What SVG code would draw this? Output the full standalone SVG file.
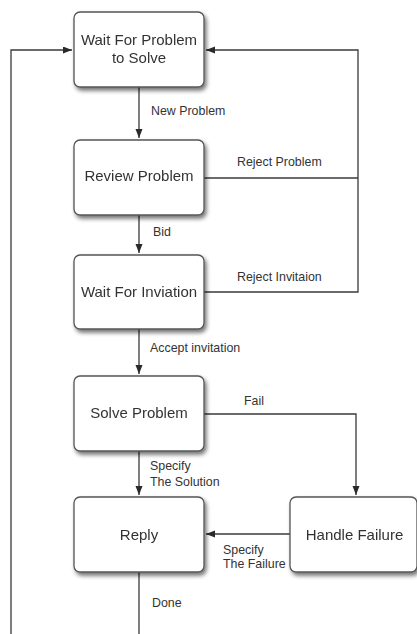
<svg xmlns="http://www.w3.org/2000/svg" width="417" height="634" viewBox="0 0 417 634">
  <style>
    .box { fill: #ffffff; stroke: #555555; stroke-width: 1.3; }
    .node-text { font-family: "Liberation Sans", Arial, sans-serif; font-size: 15px; fill: #333333; text-anchor: middle; }
    .label { font-family: "Liberation Sans", Arial, sans-serif; font-size: 12.4px; fill: #333333; }
    .wire { fill: none; stroke: #3a3a3a; stroke-width: 1.3; }
  </style>
  <defs>
    <filter id="shadow" x="-20%" y="-20%" width="140%" height="150%">
      <feGaussianBlur in="SourceAlpha" stdDeviation="2.2"/>
      <feOffset dx="1.5" dy="3" result="blur"/>
      <feComponentTransfer><feFuncA type="linear" slope="0.55"/></feComponentTransfer>
      <feMerge><feMergeNode/><feMergeNode in="SourceGraphic"/></feMerge>
    </filter>
    <marker id="arrow" markerUnits="userSpaceOnUse" markerWidth="10" markerHeight="10" refX="9" refY="3.5" orient="auto">
      <path d="M0,0 L9,3.5 L0,7 Z" fill="#2a2a2a"/>
    </marker>
  </defs>

  <rect width="417" height="634" fill="#ffffff"/>

  <!-- connectors -->
  <g id="connectors">
    <path class="wire" d="M139 87 V138" marker-end="url(#arrow)"/>
    <path class="wire" d="M139 215 V253" marker-end="url(#arrow)"/>
    <path class="wire" d="M139 329 V374" marker-end="url(#arrow)"/>
    <path class="wire" d="M139 451 V495" marker-end="url(#arrow)"/>
    <path class="wire" d="M204 178 H358"/>
    <path class="wire" d="M204 292 H358 V50 H206" marker-end="url(#arrow)"/>
    <path class="wire" d="M11 634 V50 H72" marker-end="url(#arrow)"/>
    <path class="wire" d="M204 414 H356 V495" marker-end="url(#arrow)"/>
    <path class="wire" d="M290 534 H206" marker-end="url(#arrow)"/>
    <path class="wire" d="M139 572 V634"/>

    <text class="label" x="151" y="115">New Problem</text>
    <text class="label" x="237" y="166">Reject Problem</text>
    <text class="label" x="153" y="236">Bid</text>
    <text class="label" x="237" y="281">Reject Invitaion</text>
    <text class="label" x="150" y="352">Accept invitation</text>
    <text class="label" x="244" y="405">Fail</text>
    <text class="label" x="150" y="470">Specify</text>
    <text class="label" x="150" y="486">The Solution</text>
    <text class="label" x="223" y="554">Specify</text>
    <text class="label" x="223" y="568">The Failure</text>
    <text class="label" x="152" y="607">Done</text>
  </g>

  <!-- states -->
  <g id="wait-for-problem" filter="url(#shadow)">
    <rect class="box" x="74" y="12" width="130" height="75" rx="6"/>
    <text class="node-text" x="139" y="45">Wait For Problem</text>
    <text class="node-text" x="139" y="63">to Solve</text>
  </g>
  <g id="review-problem" filter="url(#shadow)">
    <rect class="box" x="74" y="140" width="130" height="75" rx="6"/>
    <text class="node-text" x="139" y="181">Review Problem</text>
  </g>
  <g id="wait-for-invitation" filter="url(#shadow)">
    <rect class="box" x="74" y="255" width="130" height="74" rx="6"/>
    <text class="node-text" x="139" y="297">Wait For Inviation</text>
  </g>
  <g id="solve-problem" filter="url(#shadow)">
    <rect class="box" x="74" y="376" width="130" height="75" rx="6"/>
    <text class="node-text" x="139" y="418">Solve Problem</text>
  </g>
  <g id="reply" filter="url(#shadow)">
    <rect class="box" x="74" y="497" width="130" height="75" rx="6"/>
    <text class="node-text" x="139" y="540">Reply</text>
  </g>
  <g id="handle-failure" filter="url(#shadow)">
    <rect class="box" x="290" y="497" width="127" height="75" rx="6"/>
    <text class="node-text" x="354.5" y="540">Handle Failure</text>
  </g>
</svg>
